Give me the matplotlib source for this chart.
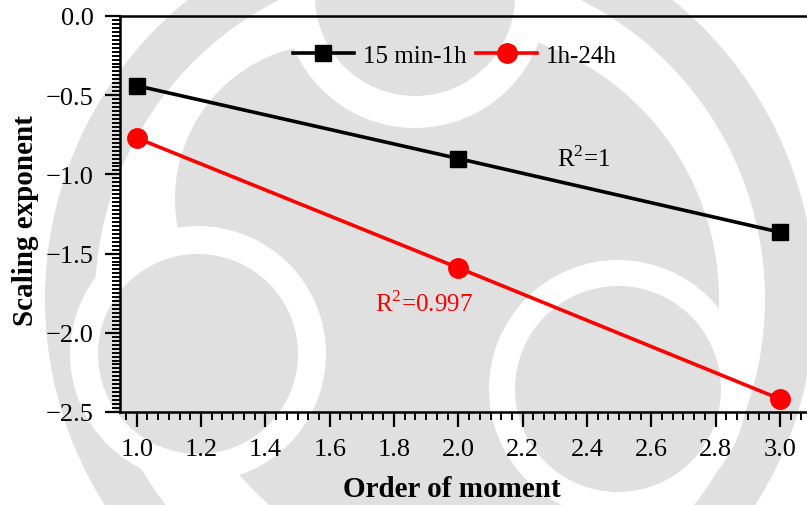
import matplotlib
matplotlib.use("Agg")
import matplotlib.pyplot as plt
from matplotlib.patches import Circle, Wedge
from matplotlib.ticker import MultipleLocator, AutoMinorLocator, FuncFormatter

# data: order of moment vs scaling exponent
orders = [1.0, 2.0, 3.0]
exp_15min_1h = [-0.44, -0.90, -1.365]
exp_1h_24h = [-0.77, -1.59, -2.418]
labels = ["15 min-1h", "1h-24h"]
r2_texts = ["R$^{2}$=1", "R$^{2}$=0.997"]

plt.rcParams["font.family"] = ["Liberation Serif", "DejaVu Serif"]
plt.rcParams["mathtext.fontset"] = "custom"
plt.rcParams["mathtext.rm"] = "Liberation Serif"

fig = plt.figure(figsize=(8.07, 5.06), dpi=100)

# faint logo in the background (pixel coordinates)
bg = fig.add_axes([0, 0, 1, 1], zorder=0)
bg.set_xlim(0, 807)
bg.set_ylim(506, 0)
bg.axis("off")
gray = "#e0e0e0"
bg.add_patch(Wedge((430, 300), 385, 0, 360, width=50, color=gray, lw=0))
bg.add_patch(Circle((447, 300), 272, color=gray, lw=0))
bg.add_patch(Circle((330, 200), 155, color=gray, lw=0))
for cx, cy, r, gap in [(198, 355, 100, 28), (618, 390, 103, 26), (415, -3, 100, 32)]:
    bg.add_patch(Circle((cx, cy), r + gap, color="white", lw=0))
    bg.add_patch(Circle((cx, cy), r, color=gray, lw=0))

ax = fig.add_axes([120 / 807, 1 - 413 / 506, 1 - 120 / 807, 396 / 506], zorder=1)
ax.patch.set_alpha(0)

ax.plot(orders, exp_15min_1h, color="black", lw=2.6, marker="s", ms=11.5, label=labels[0])
ax.plot(orders, exp_1h_24h, color="red", lw=2.6, marker="o", ms=14, label=labels[1])

ax.set_xlim(0.948, 3.084)
ax.set_ylim(-2.5, 0)

ax.xaxis.set_major_locator(MultipleLocator(0.2))
ax.xaxis.set_minor_locator(AutoMinorLocator(6))
ax.yaxis.set_major_locator(MultipleLocator(0.5))
ax.yaxis.set_minor_locator(AutoMinorLocator(20))
fmt = FuncFormatter(lambda v, p: ("%.1f" % v).replace("-", "\u2212"))
ax.xaxis.set_major_formatter(fmt)
ax.yaxis.set_major_formatter(fmt)

ax.spines["right"].set_visible(False)
for s in ["left", "bottom", "top"]:
    ax.spines[s].set_linewidth(1.8)
ax.tick_params(which="major", direction="out", length=11, width=1.6, labelsize=19, pad=8)
ax.tick_params(which="minor", direction="out", length=5.5, width=1.4)
ax.tick_params(top=False, right=False)

ax.set_xlabel("Order of moment", fontsize=21, fontweight="bold")
ax.set_ylabel("Scaling exponent", fontsize=21, fontweight="bold")
ax.xaxis.set_label_coords(0.483, -0.16)
ax.xaxis.label.set_va("top")
ax.yaxis.set_label_coords(-0.137, 0.487)
ax.yaxis.label.set_va("center")

ax.text(2.39, -0.90, r2_texts[0], fontsize=18, color="black", ha="center", va="center")
ax.text(1.893, -1.81, r2_texts[1], fontsize=18, color="red", ha="center", va="center")

ax.legend(loc="center", bbox_to_anchor=(0.4876, 0.90), ncol=2, frameon=False,
          fontsize=18, handlelength=2.44, handletextpad=0.35, columnspacing=0.4,
          numpoints=1)

fig.savefig("out.png", dpi=100)
